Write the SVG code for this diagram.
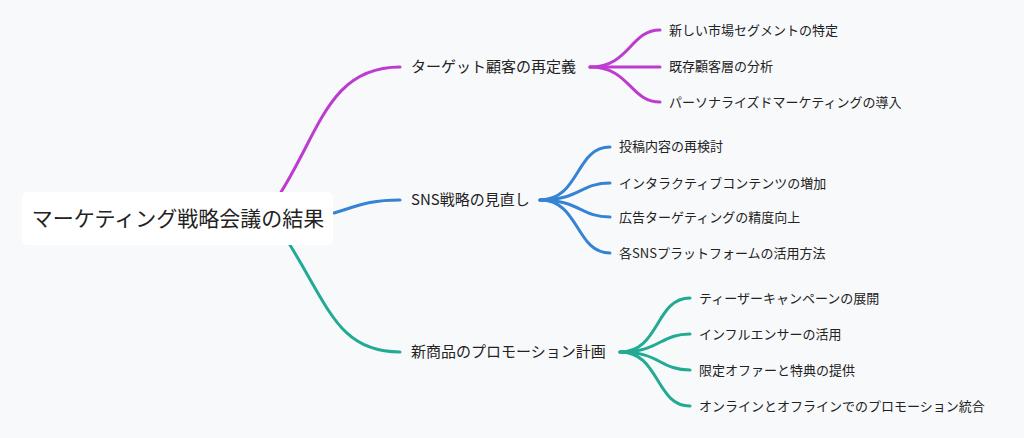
<svg xmlns="http://www.w3.org/2000/svg" width="1024" height="438" viewBox="0 0 1024 438">
<style>
text{font-family:"Noto Sans CJK JP","Noto Sans",sans-serif;fill:#222;}
.b{font-size:15px;}
.l{font-size:13px;}
.c{fill:none;stroke-width:3;stroke-linecap:round;}
.m{stroke:#bd3ccf;}.u{stroke:#3683d3;}.t{stroke:#21ab95;}
</style>
<rect width="1024" height="438" fill="#f8f9fb"/>
<g id="connectors">
<path class="c m" d="M281,192 C320,130 330,67 400,67"/>
<path class="c m" d="M590,67 C630,67 630,30 660,30"/>
<path class="c m" d="M590,67 L660,67"/>
<path class="c m" d="M590,67 C630,67 630,102 660,102"/>
<path class="c u" d="M334,213 C360,205 370,200 400,200"/>
<path class="c u" d="M540,200 C580,200 575,147 610,147"/>
<path class="c u" d="M540,200 C580,200 580,183 610,183"/>
<path class="c u" d="M540,200 C580,200 580,217 610,217"/>
<path class="c u" d="M540,200 C580,200 575,253 610,253"/>
<path class="c t" d="M290,245 C330,310 340,352 400,352"/>
<path class="c t" d="M620,352 C660,352 655,298 690,298"/>
<path class="c t" d="M620,352 C660,352 660,334 690,334"/>
<path class="c t" d="M620,352 C660,352 660,370 690,370"/>
<path class="c t" d="M620,352 C660,352 655,406 690,406"/>
</g>
<g id="root"><rect x="22" y="192" width="311" height="53" rx="6" fill="#fff"/><text x="178" y="226" font-size="21" text-anchor="middle">マーケティング戦略会議の結果</text></g>
<g id="b1"><text class="b" x="411" y="72">ターゲット顧客の再定義</text></g>
<g id="b2"><text class="b" x="411" y="205">SNS戦略の見直し</text></g>
<g id="b3"><text class="b" x="411" y="357">新商品のプロモーション計画</text></g>
<g id="l1"><text class="l" x="669" y="35">新しい市場セグメントの特定</text></g>
<g id="l2"><text class="l" x="669" y="71">既存顧客層の分析</text></g>
<g id="l3"><text class="l" x="669" y="107">パーソナライズドマーケティングの導入</text></g>
<g id="l4"><text class="l" x="619" y="151">投稿内容の再検討</text></g>
<g id="l5"><text class="l" x="619" y="188">インタラクティブコンテンツの増加</text></g>
<g id="l6"><text class="l" x="619" y="222">広告ターゲティングの精度向上</text></g>
<g id="l7"><text class="l" x="619" y="258">各SNSプラットフォームの活用方法</text></g>
<g id="l8"><text class="l" x="699" y="303">ティーザーキャンペーンの展開</text></g>
<g id="l9"><text class="l" x="699" y="339">インフルエンサーの活用</text></g>
<g id="l10"><text class="l" x="699" y="375">限定オファーと特典の提供</text></g>
<g id="l11"><text class="l" x="699" y="411">オンラインとオフラインでのプロモーション統合</text></g>
</svg>
